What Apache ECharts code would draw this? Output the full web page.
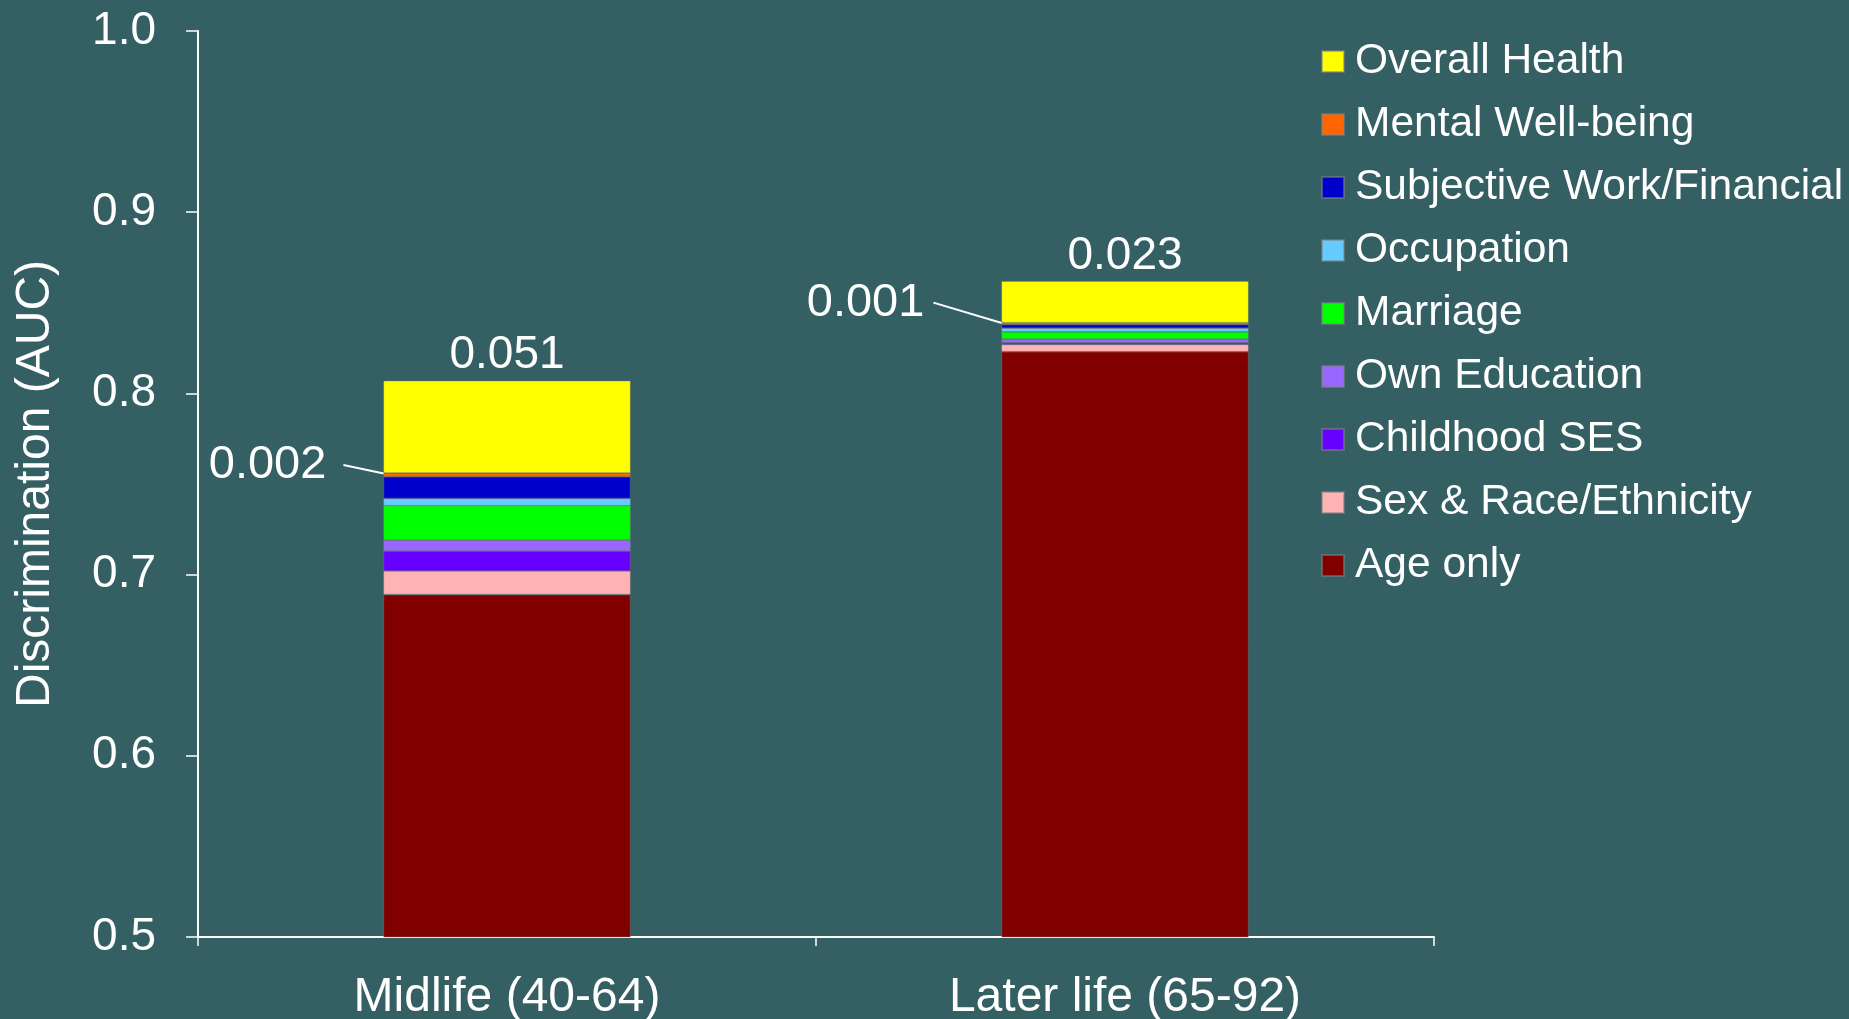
<!DOCTYPE html>
<html>
<head>
<meta charset="utf-8">
<title>Discrimination (AUC) by life stage</title>
<script src="https://cdn.jsdelivr.net/npm/echarts@6/dist/echarts.min.js"></script>
<style>
  html, body { margin: 0; padding: 0; background: #345F63; }
  #chart { width: 1849px; height: 1019px; }
</style>
</head>
<body>
<div id="chart"></div>
<script>
// Age groups on the x axis
const categories = ['Midlife (40-64)', 'Later life (65-92)'];

// Incremental AUC added by each block of predictors (bottom to top)
const ageOnly        = [0.689, 0.823];
const sexRace        = [0.013, 0.004];
const childhoodSES   = [0.011, 0.001];
const ownEducation   = [0.006, 0.002];
const marriage       = [0.019, 0.004];
const occupation     = [0.004, 0.002];
const subjectiveWork = [0.012, 0.002];
const mentalWell     = [0.002, 0.001];
const overallHealth  = [0.051, 0.023];

const yTicks = { min: 0.5, max: 1.0, interval: 0.1 };

const FONT = '"Liberation Sans", Arial, Helvetica, sans-serif';
const WHITE = '#ffffff';

const layers = [
  { name: 'Age only',                   data: ageOnly,        color: '#800000' },
  { name: 'Sex & Race/Ethnicity',       data: sexRace,        color: '#FFB3B3' },
  { name: 'Childhood SES',              data: childhoodSES,   color: '#6600FF' },
  { name: 'Own Education',              data: ownEducation,   color: '#9966FF' },
  { name: 'Marriage',                   data: marriage,       color: '#00FF00' },
  { name: 'Occupation',                 data: occupation,     color: '#66CCFF' },
  { name: 'Subjective Work/Financial',  data: subjectiveWork, color: '#0000CC' },
  { name: 'Mental Well-being',          data: mentalWell,     color: '#FF6600' },
  { name: 'Overall Health',             data: overallHealth,  color: '#FFFF00' }
];

// Callout placement for the small mental well-being increments
const calloutDistance = [40, 68];
const calloutShift = [-10, -21];
const calloutGap = [17, 9];

const series = layers.map(function (layer) {
  const s = {
    name: layer.name,
    type: 'bar',
    stack: 'auc',
    barWidth: '40%',
    itemStyle: { color: layer.color, borderColor: 'rgba(130,130,130,0.55)', borderWidth: 0.7 },
    data: layer.data.slice(),
    emphasis: { disabled: true },
    animation: false
  };
  if (layer.name === 'Overall Health') {
    s.label = {
      show: true,
      position: 'top',
      distance: 2,
      color: WHITE,
      fontFamily: FONT,
      fontSize: 46,
      formatter: function (p) { return p.value.toFixed(3); }
    };
  }
  if (layer.name === 'Mental Well-being') {
    s.data = layer.data.map(function (v, i) {
      return { value: v, label: { distance: calloutDistance[i] } };
    });
    s.label = {
      show: true,
      position: 'left',
      color: WHITE,
      fontFamily: FONT,
      fontSize: 47,
      formatter: function (p) {
        return '{v|' + p.value.toFixed(3) + '}{g' + p.dataIndex + '|}';
      },
      rich: {
        v: { color: WHITE, fontFamily: FONT, fontSize: 47 },
        g0: { width: calloutGap[0] },
        g1: { width: calloutGap[1] }
      }
    };
    s.labelLine = { show: true, lineStyle: { color: WHITE, width: 2 } };
    s.labelLayout = function (p) {
      return { dy: calloutShift[p.dataIndex] };
    };
  }
  return s;
});

const chart = echarts.init(document.getElementById('chart'), null, { renderer: 'canvas' });
chart.setOption({
  backgroundColor: '#345F63',
  animation: false,
  grid: {
    left: 198, right: 415, top: 31, bottom: 82,
    containLabel: false,
    outerBoundsMode: 'none'
  },
  legend: {
    orient: 'vertical',
    left: 1321,
    top: 40,
    padding: 0,
    itemWidth: 22,
    itemHeight: 21,
    itemGap: 20,
    icon: 'rect',
    selectedMode: false,
    data: layers.map(function (l) { return l.name; }).reverse(),
    textStyle: {
      color: WHITE,
      fontFamily: FONT,
      fontSize: 42.5,
      lineHeight: 43,
      padding: [0, 0, 0, 6]
    }
  },
  xAxis: {
    type: 'category',
    data: categories,
    boundaryGap: true,
    axisLine: { lineStyle: { color: WHITE, width: 2 } },
    axisTick: { show: true, length: 9, lineStyle: { color: WHITE, width: 1.5 } },
    axisLabel: { color: WHITE, fontFamily: FONT, fontSize: 48, margin: 37 },
    splitLine: { show: false }
  },
  yAxis: {
    type: 'value',
    min: yTicks.min,
    max: yTicks.max,
    interval: yTicks.interval,
    name: 'Discrimination (AUC)',
    nameLocation: 'middle',
    nameGap: 138,
    nameTextStyle: { color: WHITE, fontFamily: FONT, fontSize: 48 },
    axisLine: { show: true, lineStyle: { color: WHITE, width: 2 } },
    axisTick: { show: true, length: 12, lineStyle: { color: WHITE, width: 1.5 } },
    axisLabel: {
      color: WHITE, fontFamily: FONT, fontSize: 46, margin: 42,
      formatter: function (v) { return v.toFixed(1); }
    },
    splitLine: { show: false }
  },
  series: series
});
</script>
</body>
</html>
